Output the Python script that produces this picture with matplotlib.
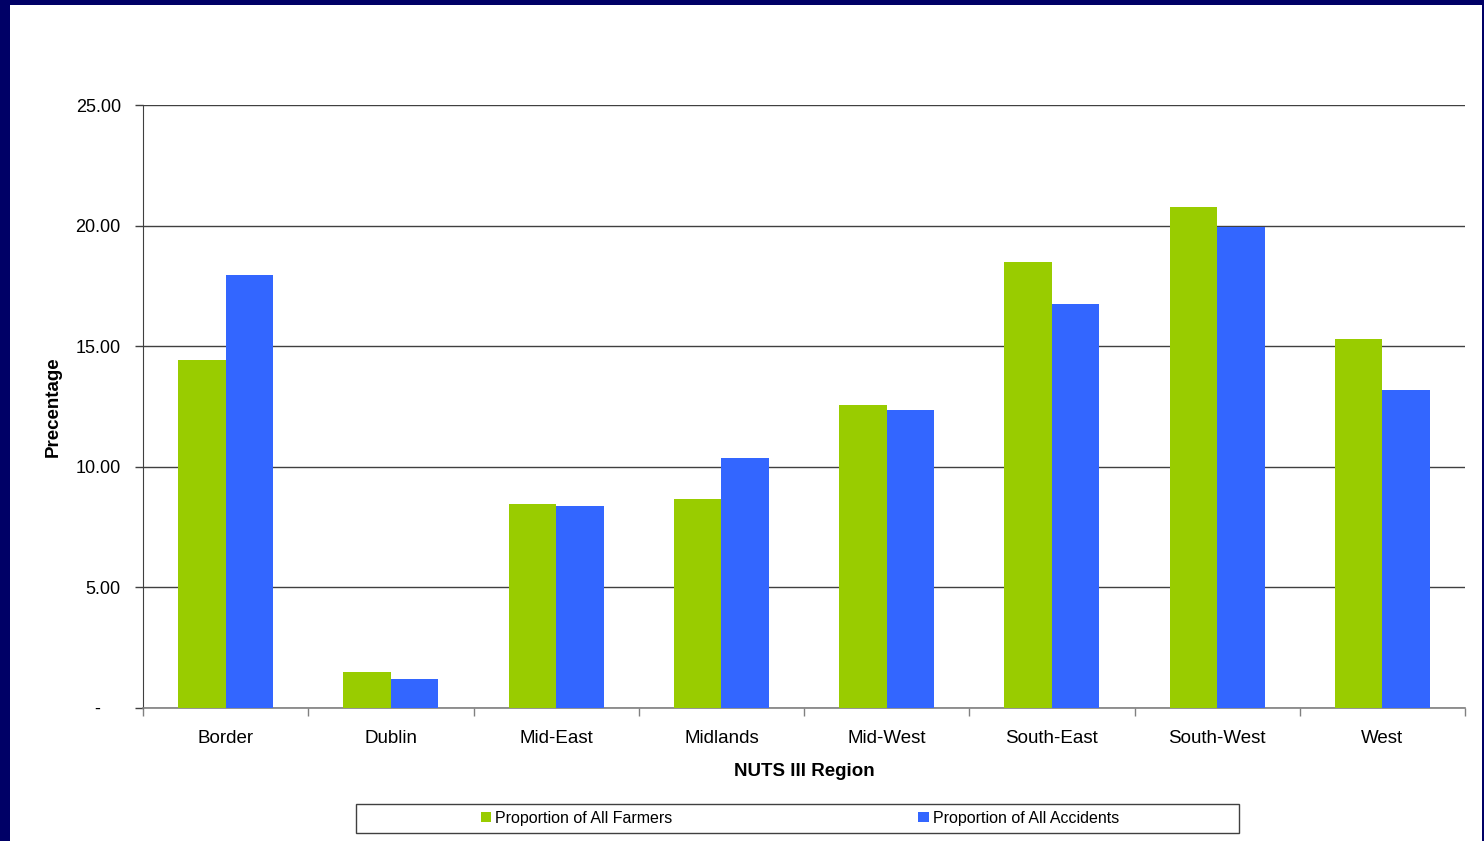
import matplotlib
matplotlib.use("Agg")
import matplotlib.pyplot as plt
from matplotlib.patches import Rectangle
import numpy as np

regions = ["Border", "Dublin", "Mid-East", "Midlands", "Mid-West",
           "South-East", "South-West", "West"]
farmers = [14.43, 1.49, 8.46, 8.66, 12.56, 18.49, 20.77, 15.30]
accidents = [17.95, 1.20, 8.37, 10.36, 12.35, 16.75, 19.94, 13.18]
yticks = [0, 5, 10, 15, 20, 25]
ytick_labels = ["-    ", "5.00", "10.00", "15.00", "20.00", "25.00"]

GREEN = "#99CC00"
BLUE = "#3366FF"
NAVY = "#000066"
GRID = "#404040"

plt.rcParams["font.family"] = ["Liberation Sans", "DejaVu Sans"]

W, H = 1484, 841
fig = plt.figure(figsize=(W / 100, H / 100), dpi=100)
fig.patch.set_facecolor(NAVY)

# white slide panel inside the navy frame
fig.patches.append(Rectangle((10 / W, 0), (1482 - 10) / W, (H - 5) / H,
                             transform=fig.transFigure, facecolor="white",
                             edgecolor="none", zorder=-2))

ax = fig.add_axes([143 / W, (H - 708) / H, (1465 - 143) / W, (708 - 105) / H])
ax.set_facecolor("white")

x = np.arange(len(regions))
bw = 0.288
ax.bar(x - bw / 2, farmers, bw, color=GREEN, label="Proportion of All Farmers", zorder=3)
ax.bar(x + bw / 2, accidents, bw, color=BLUE, label="Proportion of All Accidents", zorder=3)

ax.set_xlim(-0.5, len(regions) - 0.5)
ax.set_ylim(0, 25)
ax.set_yticks(yticks)
ax.set_yticklabels(ytick_labels, fontsize=13)
ax.yaxis.grid(True, color=GRID, linewidth=1.0, zorder=0)
ax.set_axisbelow(True)

# category labels centred, tick marks at category boundaries
ax.set_xticks(x)
ax.set_xticklabels(regions, fontsize=13.5)
ax.tick_params(axis="x", which="major", length=0, pad=15.5)
ax.set_xticks(np.arange(-0.5, len(regions)), minor=True)
ax.tick_params(axis="x", which="minor", length=6, width=1, color="#808080", direction="out")
ax.tick_params(axis="y", length=6, width=1, color="#404040", direction="out", pad=10)

for side in ["top", "right"]:
    ax.spines[side].set_visible(False)
ax.spines["left"].set_color("#404040")
ax.spines["bottom"].set_color("#808080")
ax.spines["bottom"].set_linewidth(1.2)

ax.set_ylabel("Precentage", fontsize=13.5, fontweight="bold", labelpad=10)
ax.set_xlabel("NUTS III Region", fontsize=13.5, fontweight="bold", labelpad=11.5)

# legend box
fig.patches.append(Rectangle((356 / W, (H - 833) / H), (1239 - 356) / W, (833 - 804) / H,
                             transform=fig.transFigure, facecolor="white",
                             edgecolor="#404040", linewidth=1.0, zorder=-1))
fig.legend(loc="center", bbox_to_anchor=(800 / W, (H - 818) / H), ncol=2,
           frameon=False, fontsize=11.5, handlelength=0.65, handleheight=0.65,
           handletextpad=0.25, columnspacing=15.4, borderpad=0)

fig.savefig("out.png", dpi=100, facecolor=fig.get_facecolor())
